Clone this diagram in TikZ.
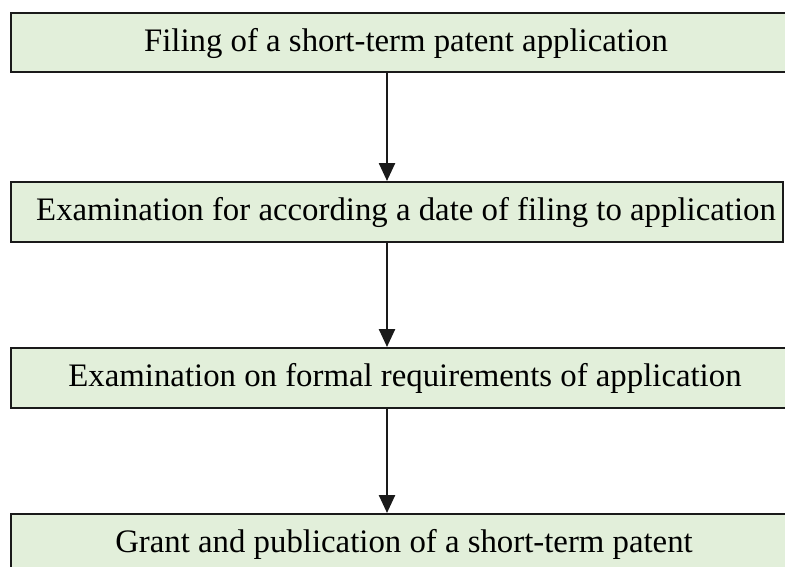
\documentclass[tikz,border=0pt]{standalone}
\usepackage{fontspec}
\setmainfont{Liberation Serif}
\usetikzlibrary{arrows.meta}
\definecolor{boxfill}{HTML}{E2EFDA}
\definecolor{boxline}{HTML}{1A1A1A}
\tikzset{
  stepbox/.style={draw=boxline, line width=2.2pt, fill=boxfill, inner sep=0pt, anchor=north west},
  steptext/.style={inner sep=0pt, font=\fontsize{32.8}{39}\selectfont},
  flow/.style={line width=2.5pt, draw=boxline, -{Triangle[width=16pt,length=18pt]}}
}
\begin{document}
\begin{tikzpicture}[x=1pt,y=-1pt]
\useasboundingbox (0,0) rectangle (785,566);
\clip (0,0) rectangle (785,566);
\node[stepbox, minimum width=790pt, minimum height=59pt] (b1) at (10,12) {};
\node[stepbox, minimum width=772pt, minimum height=60pt] (b2) at (10,181) {};
\node[stepbox, minimum width=790pt, minimum height=60pt] (b3) at (10,347) {};
\node[stepbox, minimum width=790pt, minimum height=60pt] (b4) at (10,513) {};
\node[steptext] (t1) at (406,43) {Filing of a short-term patent application};
\node[steptext] (t2) at (406,212) {Examination for according a date of filing to application};
\node[steptext] (t3) at (405,378) {Examination on formal requirements of application};
\node[steptext] (t4) at (404,544) {Grant and publication of a short-term patent};
\draw[flow] (b1.south west -| 387,0) -- (b2.north west -| 387,0);
\draw[flow] (b2.south west -| 387,0) -- (b3.north west -| 387,0);
\draw[flow] (b3.south west -| 387,0) -- (b4.north west -| 387,0);
\end{tikzpicture}
\end{document}
